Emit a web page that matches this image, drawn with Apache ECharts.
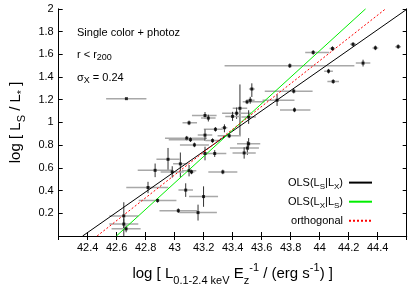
<!DOCTYPE html>
<html><head><meta charset="utf-8">
<script src="https://cdn.jsdelivr.net/npm/echarts@6/dist/echarts.min.js"></script>
<style>html,body{margin:0;padding:0;background:#fff}#c{width:415px;height:291px}</style>
</head><body><div id="c"></div>
<script>
// Data points
const xVals = [42.667,43.532,43.499,43.521,43.45,43.427,43.399,43.51,43.209,43.232,43.099,43.343,43.281,43.083,43.109,43.209,43.261,43.136,43.376,43.51,43.501,43.479,43.209,43.276,42.954,43.039,42.865,42.983,43.099,43.116,43.332,42.816,43.076,43.199,42.882,43.025,43.161,42.649,42.649,42.665,44.541,44.384,44.23,44.088,43.955,43.794,44.299,44.061,44.093,43.821,43.706,43.826];
const yVals = [1.209,1.294,1.181,1.195,1.124,1.081,1.053,1.047,1.061,1.038,0.996,0.953,0.939,0.861,0.848,0.888,0.840,0.802,0.882,0.812,0.774,0.731,0.726,0.726,0.675,0.635,0.578,0.564,0.575,0.564,0.564,0.427,0.404,0.347,0.313,0.223,0.206,0.177,0.105,0.063,1.667,1.656,1.687,1.650,1.616,1.499,1.522,1.451,1.360,1.275,1.195,1.110];
const xErrLo = [0.14,0.02,0.03,0.02,0.05,0.1,0.05,0.05,0.09,0.05,0.045,0.02,0.08,0.15,0.15,0.05,0.05,0.1,0.08,0.08,0.12,0.08,0.02,0.08,0.08,0.05,0.12,0.08,0.05,0.02,0.1,0.15,0.05,0.1,0.13,0.13,0.13,0.1,0.1,0.1,0.02,0.02,0.02,0.02,0.055,0.45,0.05,0.03,0.04,0.2,0.1,0.1];
const xErrHi = [0.138,0.02,0.12,0.03,0.05,0.1,0.05,0.05,0.08,0.05,0.055,0.02,0.05,0.14,0.1,0.05,0.05,0.1,0.08,0.08,0.08,0.08,0.02,0.08,0.08,0.05,0.12,0.08,0.05,0.02,0.1,0.14,0.05,0.1,0.13,0.13,0.13,0.1,0.1,0.1,0.02,0.02,0.02,0.02,0.11,0.445,0.05,0.03,0.04,0.13,0.12,0.11];
const yErrLo = [0,0.07,0.02,0.03,0.24,0.05,0.04,0.06,0.03,0.03,0.02,0.04,0.02,0.02,0.02,0.05,0.02,0.02,0.02,0.05,0.06,0.05,0.06,0.03,0.1,0.12,0.06,0.05,0.05,0.02,0.02,0.05,0.06,0.09,0.02,0.02,0.07,0.18,0.05,0.03,0.02,0.02,0.02,0.02,0.02,0.02,0.03,0.02,0.02,0.02,0.05,0.02];
const yErrHi = [0,0.05,0.02,0.03,0.21,0.05,0.04,0.06,0.03,0.03,0.02,0.03,0.02,0.02,0.02,0.05,0.02,0.02,0.02,0.05,0.06,0.05,0.06,0.03,0.1,0.1,0.06,0.05,0.05,0.02,0.02,0.05,0.06,0.09,0.02,0.02,0.07,0.12,0.05,0.03,0.02,0.02,0.02,0.02,0.02,0.02,0.03,0.02,0.02,0.02,0.05,0.02];

// Fit lines (end points)
const lineOLS_SX = [[42.365, 0], [44.6, 1.995]];
const lineOLS_XS = [[42.598, 0], [44.317, 2]];
const lineOrth   = [[42.465, 0], [44.455, 2]];

const xTicks = [42.4,42.6,42.8,43,43.2,43.4,43.6,43.8,44,44.2,44.4];
const yTicks = [0.2,0.4,0.6,0.8,1,1.2,1.4,1.6,1.8,2];

const pts = xVals.map((x,i)=>[x,yVals[i],xErrLo[i],xErrHi[i],yErrLo[i],yErrHi[i]]);

const FONT = 'Liberation Sans, Arial, sans-serif';
const fmt = v => { const r = Math.round(v*10)/10; return xTicks.concat(yTicks).some(t=>Math.abs(t-r)<1e-6) ? String(r) : ''; };

const chart = echarts.init(document.getElementById('c'), null, {renderer:'canvas'});
const axisCommon = {
  type:'value', interval:0.2,
  axisLine:{show:true,lineStyle:{color:'#000',width:1}},
  axisTick:{show:true,inside:true,length:4,lineStyle:{color:'#000'}},
  splitLine:{show:false}
};
const sub = {fontSize:11, fontFamily:FONT, color:'#000', verticalAlign:'bottom', lineHeight:24};
const sup = {fontSize:11, fontFamily:FONT, color:'#000', verticalAlign:'top', lineHeight:24};
const nrm = {fontSize:15, fontFamily:FONT, color:'#000', lineHeight:24};

chart.setOption({
  animation:false,
  backgroundColor:'#fff',
  grid:{left:47.5, right:8.3, top:8.8, bottom:47.6, containLabel:false},
  xAxis:[
    Object.assign({}, axisCommon, {min:42.2, max:44.6, position:'bottom',
      axisLabel:{formatter:v=>fmt(v), fontSize:11, fontFamily:FONT, color:'#000', margin:6, showMinLabel:false, showMaxLabel:false},
      name:'{n|log [ L}{s|0.1-2.4 keV}{n| E}{s|z}{p|-1}{n| / (erg s}{p|-1}{n|) ]}',
      nameLocation:'middle', nameGap:26,
      nameTextStyle:{rich:{n:nrm,s:sub,p:sup}}
    }),
    Object.assign({}, axisCommon, {min:42.2, max:44.6, position:'top', axisLabel:{show:false}})
  ],
  yAxis:[
    Object.assign({}, axisCommon, {min:0, max:2, position:'left',
      axisLabel:{formatter:v=>fmt(v), fontSize:11, fontFamily:FONT, color:'#000', margin:5, showMinLabel:false},
      name:'{n|log [ L}{s|S}{n| / L}{s|*}{n| ]}',
      nameLocation:'middle', nameGap:30, nameRotate:90,
      nameTextStyle:{rich:{n:nrm,s:sub,p:sup}}
    }),
    Object.assign({}, axisCommon, {min:0, max:2, position:'right', axisLabel:{show:false}})
  ],
  legend:{
    orient:'vertical', right:37, top:172, align:'right',
    itemWidth:23, itemHeight:14, itemGap:5.5,
    itemStyle:{opacity:0},
    data:['ols1','ols2','orth'],
    formatter:n=>({ols1:'{t|OLS(L}{s|S}{t||L}{s|X}{t|)}', ols2:'{t|OLS(L}{s|X}{t||L}{s|S}{t|)}', orth:'{t|orthogonal}'})[n],
    textStyle:{padding:[0,1,0,0], rich:{
      t:{fontSize:11,fontFamily:FONT,color:'#000',lineHeight:16},
      s:{fontSize:8,fontFamily:FONT,color:'#000',verticalAlign:'bottom',lineHeight:16}
    }}
  },
  graphic:[
    {type:'text', left:77, top:27, style:{text:'Single color + photoz', font:'11px '+FONT, fill:'#000'}},
    {type:'text', left:77, top:49, style:{text:'{t|r < r}{s|200}', rich:{t:{fontSize:11,fontFamily:FONT,fill:'#000',lineHeight:16},s:{fontSize:9,fontFamily:FONT,fill:'#000',verticalAlign:'bottom',lineHeight:16}}}},
    {type:'text', left:77, top:72, style:{text:'{t|σ}{s|X}{t| = 0.24}', rich:{t:{fontSize:11,fontFamily:FONT,fill:'#000',lineHeight:16},s:{fontSize:9,fontFamily:FONT,fill:'#000',verticalAlign:'bottom',lineHeight:16}}}}
  ],
  series:[
    {type:'custom', z:1, data:pts, clip:true,
      renderItem:(params, api)=>{
        const x=api.value(0), y=api.value(1);
        const l=api.coord([x-api.value(2), y]), r=api.coord([x+api.value(3), y]);
        const b=api.coord([x, y-api.value(4)]), t=api.coord([x, y+api.value(5)]);
        return {type:'group', children:[
          {type:'line', shape:{x1:l[0],y1:l[1],x2:r[0],y2:r[1]}, style:{stroke:'#a8a8a8',lineWidth:1.5}},
          {type:'line', shape:{x1:b[0],y1:b[1],x2:t[0],y2:t[1]}, style:{stroke:'#333',lineWidth:1}}
        ]};
      }},
    {name:'ols1', type:'line', z:2, data:lineOLS_SX, symbol:'none', lineStyle:{color:'#000',width:1}, itemStyle:{color:'#000'}},
    {name:'ols2', type:'line', z:2, data:lineOLS_XS, symbol:'none', lineStyle:{color:'#00ee00',width:1}, itemStyle:{color:'#00ee00'}},
    {name:'orth', type:'line', z:2, data:lineOrth, symbol:'none', lineStyle:{color:'#ff0000',width:1,type:[2,2]}, itemStyle:{color:'#ff0000'}},
    {type:'scatter', z:3, data:pts.map(p=>[p[0],p[1]]), symbol:'rect', symbolSize:3, itemStyle:{color:'#000'}}
  ]
});
</script></body></html>
